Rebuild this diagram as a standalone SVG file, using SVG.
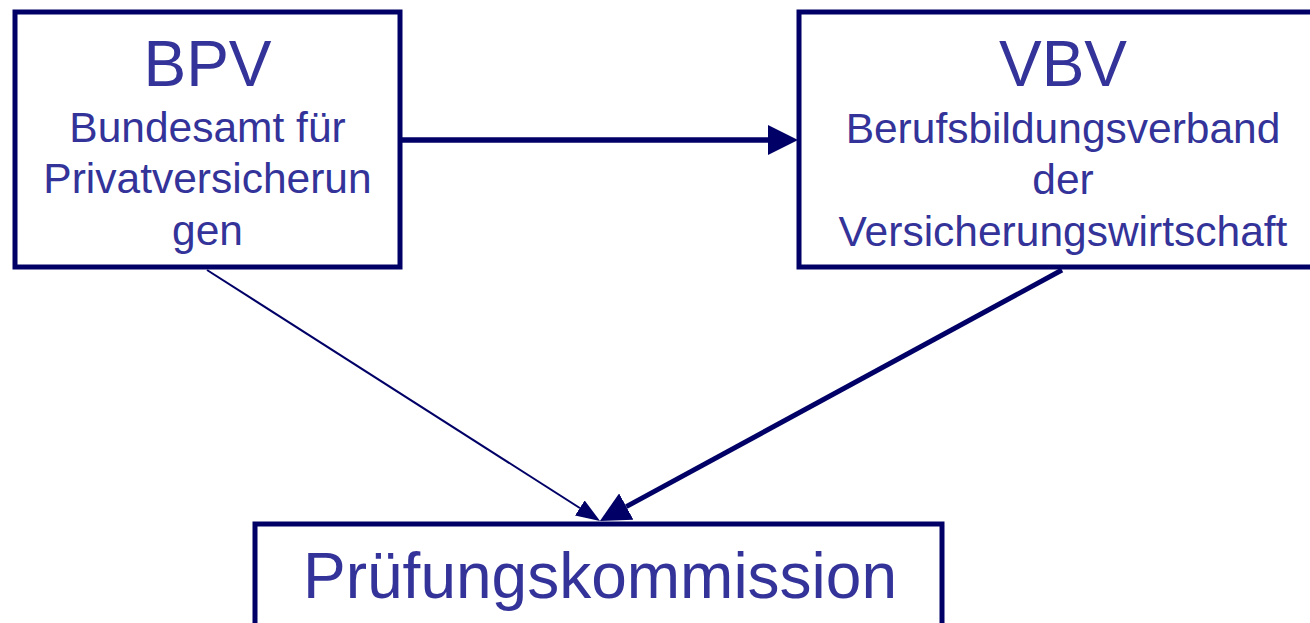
<svg xmlns="http://www.w3.org/2000/svg" width="1310" height="623" viewBox="0 0 1310 623">
  <style>
    .box { fill: #ffffff; stroke: #000066; stroke-width: 5; }
    .t { font-family: "Liberation Sans", Arial, sans-serif; fill: #333399; text-anchor: middle; }
    .big { font-size: 64px; }
    .small { font-size: 42.5px; }
    .conn { stroke: #000066; fill: none; }
  </style>
  <defs>
    <marker id="arrowBig" markerUnits="userSpaceOnUse" markerWidth="30" markerHeight="30" refX="0" refY="15" orient="auto" viewBox="0 0 30 30">
      <path d="M0,0 L30,15 L0,30 Z" fill="#000066"/>
    </marker>
    <marker id="arrowSmall" markerUnits="userSpaceOnUse" markerWidth="24" markerHeight="18" refX="0" refY="9" orient="auto" viewBox="0 0 24 18">
      <path d="M0,0 L24,9 L0,18 Z" fill="#000066"/>
    </marker>
  </defs>
  <rect width="1310" height="623" fill="#ffffff"/>
  <g id="connectors">
    <line class="conn" x1="402" y1="140" x2="768" y2="140" stroke-width="5.5" marker-end="url(#arrowBig)"/>
    <line class="conn" x1="207" y1="270" x2="579.8" y2="508" stroke-width="2" marker-end="url(#arrowSmall)"/>
    <line class="conn" x1="1062" y1="270" x2="626.3" y2="506.6" stroke-width="5" marker-end="url(#arrowBig)"/>
  </g>
  <g id="node-bpv">
    <rect class="box" x="15" y="12" width="385" height="255"/>
    <text class="t big" x="207.5" y="86">BPV</text>
    <text class="t small" x="207.5" y="142">Bundesamt für</text>
    <text class="t small" x="207.5" y="193">Privatversicherun</text>
    <text class="t small" x="207.5" y="245">gen</text>
  </g>
  <g id="node-vbv">
    <rect class="box" x="799" y="12" width="530" height="255"/>
    <text class="t big" x="1063" y="86">VBV</text>
    <text class="t small" x="1063" y="143">Berufsbildungsverband</text>
    <text class="t small" x="1063" y="194">der</text>
    <text class="t small" x="1063" y="246">Versicherungswirtschaft</text>
  </g>
  <g id="node-pruefung">
    <rect class="box" x="255" y="524" width="687" height="200"/>
    <text class="t big" x="600" y="598">Prüfungskommission</text>
  </g>
</svg>
